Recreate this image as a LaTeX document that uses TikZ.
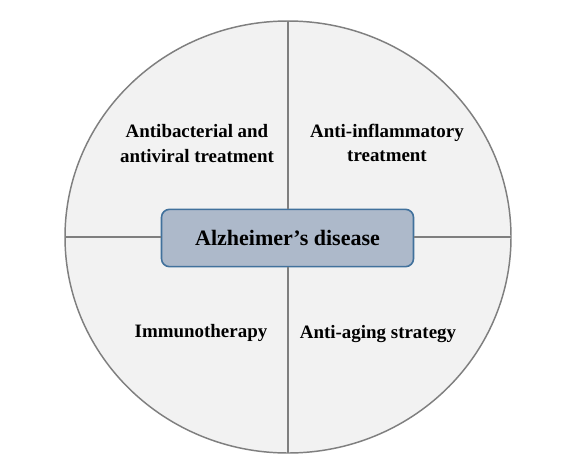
\documentclass[tikz,border=0pt]{standalone}
\usepackage{fontspec}
\setmainfont{Liberation Serif}
\usepackage{tikz}
\usetikzlibrary{positioning, calc}
\definecolor{ringline}{HTML}{7F7F7F}
\definecolor{ringfill}{HTML}{F2F2F2}
\definecolor{boxline}{HTML}{41719C}
\definecolor{boxfill}{HTML}{ADB9CA}

\begin{document}
\begin{tikzpicture}[
    x=0.75pt, y=-0.75pt,
    ring/.style={draw=ringline, fill=ringfill, line width=1.1pt},
    divider/.style={draw=ringline, line width=1.1pt},
    centerbox/.style={rectangle, draw=boxline, fill=boxfill, line width=1.2pt, rounded corners=6pt, minimum width=189pt, minimum height=43pt, font=\fontsize{16.5}{19}\selectfont\bfseries},
    label/.style={align=center, font=\fontsize{14.2}{18.5}\selectfont\bfseries}
]

% fondo blanco con las medidas de la figura
\fill[white] (0,0) rectangle (580,471);

% ========== CIRCULO ==========
\draw[ring] (288,237) ellipse [x radius=167.25pt, y radius=162pt];

% Puntos en el borde del circulo
\coordinate (top) at (288,21);
\coordinate (bottom) at (288,453);
\coordinate (left) at (65,237);
\coordinate (right) at (511,237);

% ========== CENTRO ==========
\node[centerbox] (ad) at (287.5,238) {Alzheimer’s disease};

% Lineas divisorias
\draw[divider] (ad.north -| top) -- (top);
\draw[divider] (ad.south -| bottom) -- (bottom);
\draw[divider] (ad.west |- left) -- (left);
\draw[divider] (ad.east |- right) -- (right);

% ========== TRATAMIENTOS ==========
\node[label] (antibac) at (197,143.5) {Antibacterial and\\antiviral treatment};
\node[label] (antiinf) at (387,143) {Anti-inflammatory\\treatment};
\node[label] (immuno) at (201,333) {Immunotherapy};
\node[label] (aging) at (378,334) {Anti-aging strategy};

\end{tikzpicture}
\end{document}
